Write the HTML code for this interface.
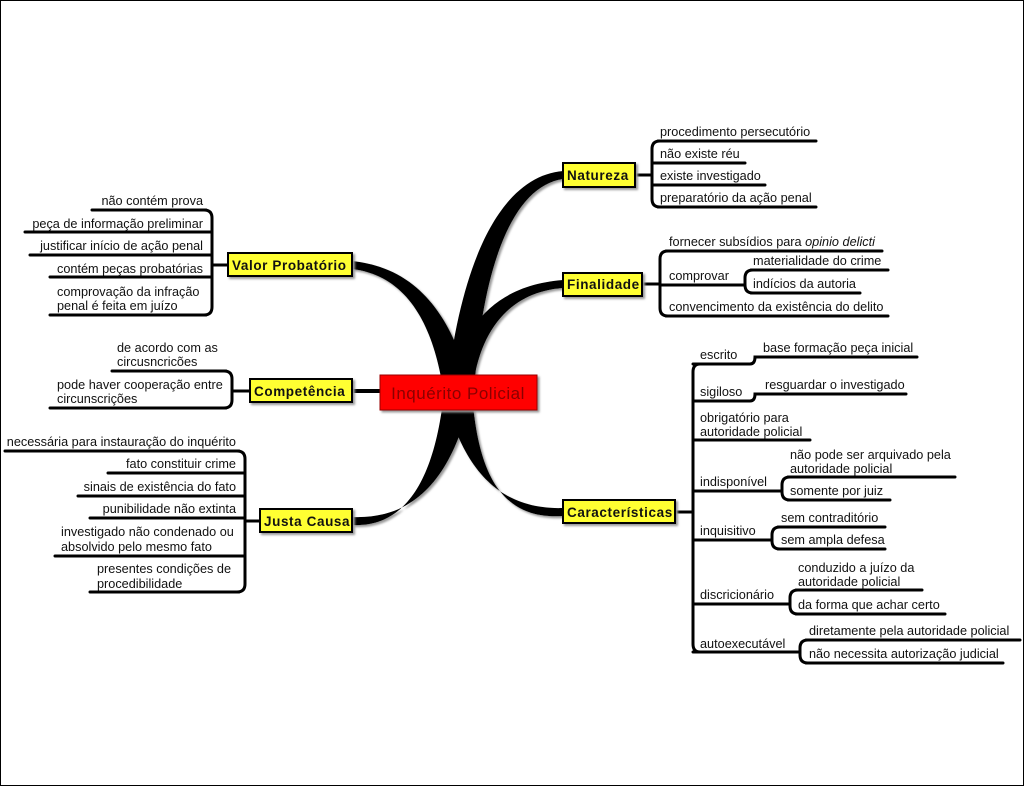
<!DOCTYPE html>
<html><head><meta charset="utf-8"><style>
html,body{margin:0;padding:0;background:#fff}
svg{display:block}
text{font-family:"Liberation Sans",sans-serif;font-size:12.7px;fill:#111}
.b{font-weight:bold;font-size:13.5px;letter-spacing:0.6px}
.r{text-anchor:end}
</style></head><body>
<svg width="1024" height="786" viewBox="0 0 1024 786" xmlns="http://www.w3.org/2000/svg">
<rect x="0.5" y="0.5" width="1023" height="785" fill="#fff" stroke="#000"/>
<defs><filter id="sh" x="-20%" y="-20%" width="150%" height="160%"><feDropShadow dx="2" dy="2" stdDeviation="1" flood-color="#999"/></filter></defs>
<g fill="#000" filter="url(#sh)">
<path d="M446,395 C462,250 505,176 563,171 L563,179 C515,186 482,260 474,395 Z"/>
<path d="M444,395 C462,320 500,285 563,280 L563,288 C510,292 478,330 472,395 Z"/>
<path d="M444,392 C462,470 500,510 563,508 L563,516 C505,520 478,480 472,392 Z"/>
<path d="M472,395 C455,320 420,268 352,261 L352,269 C410,276 435,330 444,395 Z"/>
<path d="M472,392 C455,470 420,520 352,517 L352,525 C405,528 435,480 444,392 Z"/>
</g>
<line x1="352" y1="391" x2="382" y2="391" stroke="#000" stroke-width="4"/>
<g stroke="#000" stroke-width="3" fill="none" stroke-linecap="round">
<path d="M636,175 H652 M660,141 Q652,141 652,149 V199 Q652,207 660,207"/>
<line x1="658" y1="141" x2="816" y2="141"/><line x1="652" y1="163" x2="745" y2="163"/><line x1="652" y1="185" x2="765" y2="185"/><line x1="658" y1="207" x2="816" y2="207"/>
<path d="M643,284 H660 M668,251 Q660,251 660,259 V308 Q660,316 668,316"/>
<line x1="666" y1="251" x2="882" y2="251"/><line x1="660" y1="285" x2="745" y2="285"/><line x1="666" y1="316" x2="888" y2="316"/>
<path d="M753,270 Q745,270 745,278 V285 Q745,293 753,293"/>
<line x1="751" y1="270" x2="888" y2="270"/><line x1="751" y1="293" x2="860" y2="293"/>
<path d="M676,512 H693 M700,364 Q693,364 693,372 V644 Q693,652 700,652"/>
<path d="M693,364 H750 Q755,364 755,357 H917"/>
<path d="M693,401 H750 Q755,401 755,394 H906"/>
<line x1="693" y1="440" x2="810" y2="440"/>
<line x1="693" y1="491" x2="782" y2="491"/>
<path d="M790,477 Q782,477 782,485 V492 Q782,500 790,500"/><line x1="788" y1="477" x2="955" y2="477"/><line x1="788" y1="500" x2="890" y2="500"/>
<line x1="693" y1="540" x2="772" y2="540"/>
<path d="M780,527 Q772,527 772,535 V541 Q772,549 780,549"/><line x1="778" y1="527" x2="885" y2="527"/><line x1="778" y1="549" x2="885" y2="549"/>
<line x1="693" y1="604" x2="790" y2="604"/>
<path d="M798,590 Q790,590 790,598 V606 Q790,614 798,614"/><line x1="796" y1="590" x2="922" y2="590"/><line x1="796" y1="614" x2="945" y2="614"/>
<line x1="693" y1="652" x2="800" y2="652"/>
<path d="M808,640 Q800,640 800,648 V655 Q800,663 808,663"/><line x1="806" y1="640" x2="1020" y2="640"/><line x1="806" y1="663" x2="1003" y2="663"/>
<path d="M228,265 H212 M204,210 Q212,210 212,218 V307 Q212,315 204,315"/>
<line x1="92" y1="210" x2="206" y2="210"/><line x1="25" y1="232" x2="212" y2="232"/><line x1="30" y1="255" x2="212" y2="255"/><line x1="50" y1="277" x2="212" y2="277"/><line x1="50" y1="315" x2="206" y2="315"/>
<path d="M250,391 H232 M224,371 Q232,371 232,379 V400 Q232,408 224,408"/>
<line x1="112" y1="371" x2="226" y2="371"/><line x1="50" y1="408" x2="226" y2="408"/>
<path d="M260,521 H245 M237,451 Q245,451 245,459 V584 Q245,592 237,592"/>
<line x1="5" y1="451" x2="239" y2="451"/><line x1="108" y1="473" x2="245" y2="473"/><line x1="78" y1="496" x2="245" y2="496"/><line x1="90" y1="518" x2="245" y2="518"/><line x1="55" y1="556" x2="245" y2="556"/><line x1="90" y1="592" x2="239" y2="592"/>
</g>
<rect x="380" y="375" width="157" height="35" fill="#ff0000" stroke="#900" stroke-width="1" filter="url(#sh)"/>
<text x="458" y="399" text-anchor="middle" style="font-size:17px;letter-spacing:0.5px;fill:#8a0000">Inquérito Policial</text>
<g fill="#ffff33" stroke="#000" stroke-width="2" filter="url(#sh)">
<rect x="563" y="163" width="72" height="24"/>
<rect x="563" y="273" width="79" height="23"/>
<rect x="563" y="500" width="112" height="23"/>
<rect x="228" y="253" width="124" height="23"/>
<rect x="250" y="379" width="102" height="23"/>
<rect x="260" y="509" width="92" height="23"/>
</g>
<text class="b" x="567" y="180">Natureza</text>
<text class="b" x="567" y="289">Finalidade</text>
<text class="b" x="567" y="517">Características</text>
<text class="b" x="232" y="270">Valor Probatório</text>
<text class="b" x="254" y="396">Competência</text>
<text class="b" x="264" y="526">Justa Causa</text>
<text x="660" y="136">procedimento persecutório</text>
<text x="660" y="158">não existe réu</text>
<text x="660" y="180">existe investigado</text>
<text x="660" y="202">preparatório da ação penal</text>
<text x="669" y="246">fornecer subsídios para <tspan font-style="italic">opinio delicti</tspan></text>
<text x="669" y="280">comprovar</text>
<text x="753" y="265">materialidade do crime</text>
<text x="753" y="288">indícios da autoria</text>
<text x="669" y="311">convencimento da existência do delito</text>
<text x="700" y="359">escrito</text>
<text x="763" y="352">base formação peça inicial</text>
<text x="700" y="396">sigiloso</text>
<text x="765" y="389">resguardar o investigado</text>
<text x="700" y="422">obrigatório para</text>
<text x="700" y="436">autoridade policial</text>
<text x="700" y="486">indisponível</text>
<text x="790" y="459">não pode ser arquivado pela</text>
<text x="790" y="473">autoridade policial</text>
<text x="790" y="495">somente por juiz</text>
<text x="700" y="535">inquisitivo</text>
<text x="781" y="522">sem contraditório</text>
<text x="781" y="544">sem ampla defesa</text>
<text x="700" y="599">discricionário</text>
<text x="798" y="572">conduzido a juízo da</text>
<text x="798" y="586">autoridade policial</text>
<text x="798" y="609">da forma que achar certo</text>
<text x="700" y="648">autoexecutável</text>
<text x="809" y="635">diretamente pela autoridade policial</text>
<text x="809" y="658">não necessita autorização judicial</text>
<text class="r" x="203" y="205">não contém prova</text>
<text class="r" x="203" y="228">peça de informação preliminar</text>
<text class="r" x="203" y="250">justificar início de ação penal</text>
<text class="r" x="203" y="273">contém peças probatórias</text>
<text x="57" y="296">comprovação da infração</text>
<text x="57" y="310">penal é feita em juízo</text>
<text x="117" y="352">de acordo com as</text>
<text x="117" y="366">circusncricões</text>
<text x="57" y="389">pode haver cooperação entre</text>
<text x="57" y="403">circunscrições</text>
<text class="r" x="236" y="446">necessária para instauração do inquérito</text>
<text class="r" x="236" y="468">fato constituir crime</text>
<text class="r" x="236" y="491">sinais de existência do fato</text>
<text class="r" x="236" y="513">punibilidade não extinta</text>
<text x="61" y="536">investigado não condenado ou</text>
<text x="61" y="551">absolvido pelo mesmo fato</text>
<text x="97" y="573">presentes condições de</text>
<text x="97" y="588">procedibilidade</text>
</svg>
</body></html>
